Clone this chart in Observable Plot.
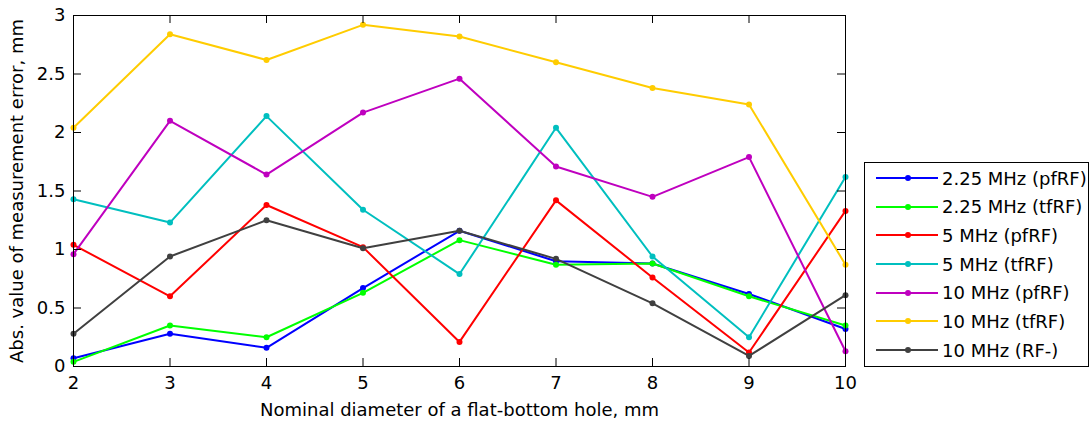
<!DOCTYPE html>
<html><head><meta charset="utf-8">
<script src="https://cdn.jsdelivr.net/npm/d3@7"></script>
<script src="https://cdn.jsdelivr.net/npm/@observablehq/plot@0.6"></script>
<style>
body{margin:0;background:#fff;}
#wrap{position:relative;width:1091px;height:423px;font-family:"DejaVu Sans",sans-serif;}
#legend{position:absolute;left:864px;top:162px;width:225px;height:205px;border:1px solid #000;background:#fff;box-sizing:border-box;}
.row{position:absolute;left:0;height:28px;display:flex;align-items:center;font-size:18px;color:#000;white-space:nowrap;}
.row svg{display:block;margin-left:11px;margin-right:4px;}
</style></head><body><div id="wrap"></div>
<script>
// ---- data ----
const diameters = [2, 3, 4, 5, 6, 7, 8, 9, 10];
const seriesNames = ["2.25 MHz (pfRF)", "2.25 MHz (tfRF)", "5 MHz (pfRF)", "5 MHz (tfRF)", "10 MHz (pfRF)", "10 MHz (tfRF)", "10 MHz (RF-)"];
const mhz225pf = [0.07, 0.28, 0.16, 0.67, 1.16, 0.90, 0.88, 0.62, 0.32];
const mhz225tf = [0.04, 0.35, 0.25, 0.63, 1.08, 0.87, 0.88, 0.60, 0.35];
const mhz5pf   = [1.04, 0.60, 1.38, 1.02, 0.21, 1.42, 0.76, 0.12, 1.33];
const mhz5tf   = [1.43, 1.23, 2.14, 1.34, 0.79, 2.04, 0.94, 0.25, 1.62];
const mhz10pf  = [0.96, 2.10, 1.64, 2.17, 2.46, 1.71, 1.45, 1.79, 0.13];
const mhz10tf  = [2.04, 2.84, 2.62, 2.92, 2.82, 2.60, 2.38, 2.24, 0.87];
const mhz10rf  = [0.28, 0.94, 1.25, 1.01, 1.16, 0.92, 0.54, 0.09, 0.61];
const seriesValues = [mhz225pf, mhz225tf, mhz5pf, mhz5tf, mhz10pf, mhz10tf, mhz10rf];
const xTicks = [2, 3, 4, 5, 6, 7, 8, 9, 10];
const yTicks = [0, 0.5, 1, 1.5, 2, 2.5, 3];
const yTickLabels = ["0", "0.5", "1", "1.5", "2", "2.5", "3"];
const xLabel = "Nominal diameter of a flat-bottom hole, mm";
const yLabel = "Abs. value of measurement error, mm";

// ---- styles ----
const colors = ["#0000ff", "#00ff00", "#ff0000", "#00bfbf", "#bf00bf", "#ffcc00", "#404040"];

const table = [];
seriesNames.forEach((s, i) => diameters.forEach((d, j) => table.push({series: s, d, v: seriesValues[i][j]})));

const W = 1091, H = 423, mL = 73, mT = 15, mR = 246, mB = 57;
const plotW = W - mL - mR, plotH = H - mT - mB;

const seriesMarks = [];
seriesNames.forEach(s => {
  const rows = table.filter(r => r.series === s);
  seriesMarks.push(Plot.line(rows, {x: "d", y: "v", stroke: "series", strokeWidth: 2}));
  seriesMarks.push(Plot.dot(rows, {x: "d", y: "v", fill: "series", r: 3}));
});

const chart = Plot.plot({
  width: W, height: H,
  marginLeft: mL, marginTop: mT, marginRight: mR, marginBottom: mB,
  style: {fontFamily: "DejaVu Sans, sans-serif", fontSize: "18px", color: "#000", background: "#fff"},
  x: {domain: [2, 10]},
  y: {domain: [0, 3]},
  color: {domain: seriesNames, range: colors},
  marks: [
    Plot.axisX({ticks: xTicks, tickSize: 0, tickPadding: 10, label: null, fontSize: 18}),
    Plot.axisY({ticks: yTicks, tickSize: 0, tickPadding: 8, label: null, fontSize: 18,
      tickFormat: d => yTickLabels[yTicks.indexOf(d)]}),
    ...seriesMarks,
    Plot.ruleX(xTicks, {x: d => d, insetTop: plotH - 8, stroke: "#000"}),
    Plot.ruleX(xTicks, {x: d => d, insetBottom: plotH - 8, stroke: "#000"}),
    Plot.ruleY(yTicks, {y: d => d, insetRight: plotW - 8, stroke: "#000"}),
    Plot.ruleY(yTicks, {y: d => d, insetLeft: plotW - 8, stroke: "#000"}),
    Plot.frame({stroke: "#000"}),
    Plot.text([xLabel], {text: d => d, frameAnchor: "bottom", lineAnchor: "top", dy: 37, fontSize: 18, fill: "#000"}),
    Plot.text([yLabel], {text: d => d, frameAnchor: "left", textAnchor: "middle", rotate: -90, lineAnchor: "middle", dx: -56, fontSize: 18, fill: "#000"})
  ]
});
const wrap = document.getElementById("wrap");
wrap.appendChild(chart);

// ---- legend ----
const legend = document.createElement("div");
legend.id = "legend";
seriesNames.forEach((s, i) => {
  const row = document.createElement("div");
  row.className = "row";
  row.style.top = (1 + i * 28.67) + "px";
  row.innerHTML = `<svg width="62" height="10"><line x1="0" y1="5" x2="62" y2="5" stroke="${colors[i]}" stroke-width="2"/><circle cx="32" cy="5" r="3" fill="${colors[i]}"/></svg><span>${s}</span>`;
  legend.appendChild(row);
});
wrap.appendChild(legend);
</script>
</body></html>
